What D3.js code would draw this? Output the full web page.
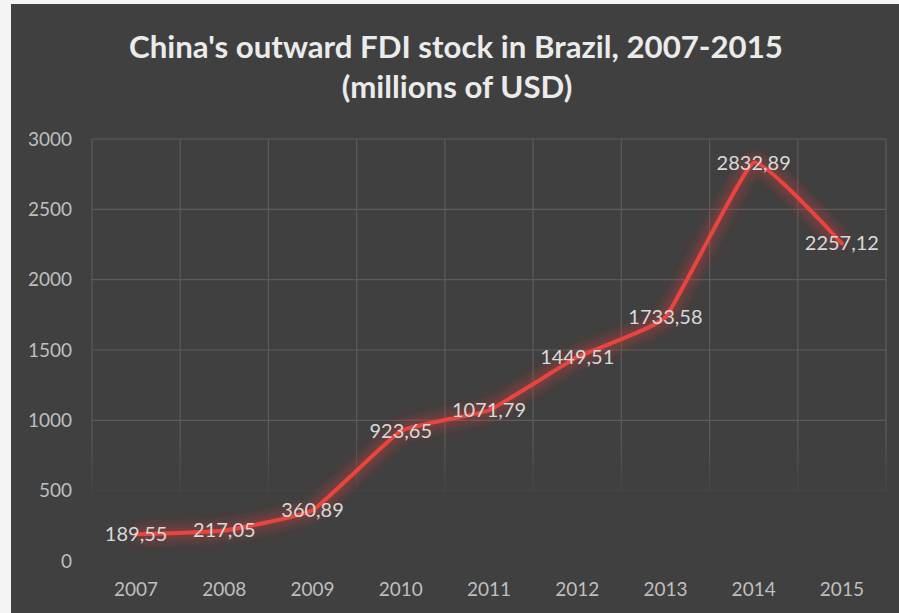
<!DOCTYPE html>
<html>
<head>
<meta charset="utf-8">
<script src="https://cdn.jsdelivr.net/npm/d3@7/dist/d3.min.js"></script>
<style>
  html, body { margin: 0; padding: 0; background: #f2f2f2; }
  svg { display: block; }
</style>
</head>
<body>
<svg id="chart" width="899" height="613"></svg>
<script>
// chart data
const years = ['2007', '2008', '2009', '2010', '2011', '2012', '2013', '2014', '2015'];
const stock = [189.55, 217.05, 360.89, 923.65, 1071.79, 1449.51, 1733.58, 2832.89, 2257.12];
const yTicks = [0, 500, 1000, 1500, 2000, 2500, 3000];
const titleLines = ["China's outward FDI stock in Brazil, 2007-2015", '(millions of USD)'];

const W = 899, H = 613;
const plot = { left: 92, right: 886, top: 139, bottom: 561 };
const FONT = 'Lato, "Open Sans", sans-serif';

const svg = d3.select('#chart');

// light frame on the left / top like the screenshot
svg.append('rect').attr('width', W).attr('height', H).attr('fill', '#f4f4f4');
svg.append('rect')
  .attr('x', 11).attr('y', 4)
  .attr('width', W - 11).attr('height', H - 4)
  .attr('fill', '#404040');

const x = d3.scaleBand().domain(years).range([plot.left, plot.right]);
const y = d3.scaleLinear().domain([0, 3000]).range([plot.bottom, plot.top]);

const defs = svg.append('defs');

// gridlines fade out towards the bottom of the plot
const fade = defs.append('linearGradient')
  .attr('id', 'fade').attr('gradientUnits', 'userSpaceOnUse')
  .attr('x1', 0).attr('x2', 0).attr('y1', plot.top).attr('y2', plot.bottom);
fade.append('stop').attr('offset', '0.7').attr('stop-color', '#fff');
fade.append('stop').attr('offset', '0.86').attr('stop-color', '#000');
defs.append('mask').attr('id', 'gridMask')
  .append('rect').attr('x', 0).attr('y', 0).attr('width', W).attr('height', H)
  .attr('fill', 'url(#fade)');

const glow = defs.append('filter').attr('id', 'glow')
  .attr('x', '-10%').attr('y', '-10%').attr('width', '120%').attr('height', '120%');
glow.append('feGaussianBlur').attr('stdDeviation', 6);

// grid
const grid = svg.append('g').attr('mask', 'url(#gridMask)')
  .attr('stroke', '#5c5c5c').attr('stroke-width', 1.2);
grid.selectAll('line.h').data(yTicks).enter().append('line')
  .attr('class', 'h')
  .attr('x1', plot.left).attr('x2', plot.right)
  .attr('y1', d => y(d)).attr('y2', d => y(d));
const vEdges = years.map(d => x(d)).concat([x(years[years.length - 1]) + x.bandwidth()]);
grid.selectAll('line.v').data(vEdges).enter().append('line')
  .attr('class', 'v')
  .attr('x1', d => d).attr('x2', d => d)
  .attr('y1', plot.top).attr('y2', plot.bottom);

// axes
const yAxis = svg.append('g')
  .attr('transform', `translate(${plot.left},0)`)
  .call(d3.axisLeft(y).tickValues(yTicks).tickSize(0).tickPadding(20).tickFormat(d3.format('d')));
const xAxis = svg.append('g')
  .attr('transform', `translate(0,${plot.bottom})`)
  .call(d3.axisBottom(x).tickSize(0).tickPadding(22));
[yAxis, xAxis].forEach(a => {
  a.select('.domain').remove();
  a.selectAll('text')
    .attr('fill', '#bfbfbf')
    .style('font-family', FONT)
    .style('font-size', '19px');
});

// line with red glow (light smoothing, like Excel)
const line = d3.line()
  .x((d, i) => x(years[i]) + x.bandwidth() / 2)
  .y(d => y(d))
  .curve(d3.curveCardinal.tension(0.65));

svg.append('path').datum(stock)
  .attr('d', line)
  .attr('fill', 'none')
  .attr('stroke', '#e03a3a')
  .attr('stroke-width', 14)
  .attr('stroke-opacity', 0.4)
  .attr('stroke-linejoin', 'round')
  .attr('filter', 'url(#glow)');
svg.append('path').datum(stock)
  .attr('d', line)
  .attr('fill', 'none')
  .attr('stroke', '#e8453f')
  .attr('stroke-width', 4)
  .attr('stroke-linejoin', 'round')
  .attr('stroke-linecap', 'round');

// data labels, centered on the points
svg.append('g').selectAll('text').data(stock).enter().append('text')
  .attr('x', (d, i) => x(years[i]) + x.bandwidth() / 2)
  .attr('y', d => y(d))
  .attr('dy', '0.35em')
  .attr('text-anchor', 'middle')
  .attr('fill', '#d9d9d9')
  .style('font-family', FONT)
  .style('font-size', '20px')
  .text(d => d.toFixed(2).replace('.', ','));

// title, sized to the width of the original
const title = svg.append('g')
  .attr('fill', '#ebebeb')
  .style('font-family', FONT)
  .style('font-weight', 'bold');
const t1 = title.append('text')
  .attr('x', 456).attr('y', 58)
  .attr('text-anchor', 'middle')
  .style('font-size', '28px')
  .text(titleLines[0]);
const fitSize = 28 * 654 / t1.node().getComputedTextLength();
t1.style('font-size', fitSize + 'px');
title.append('text')
  .attr('x', 457).attr('y', 98)
  .attr('text-anchor', 'middle')
  .style('font-size', fitSize + 'px')
  .text(titleLines[1]);
</script>
</body>
</html>
